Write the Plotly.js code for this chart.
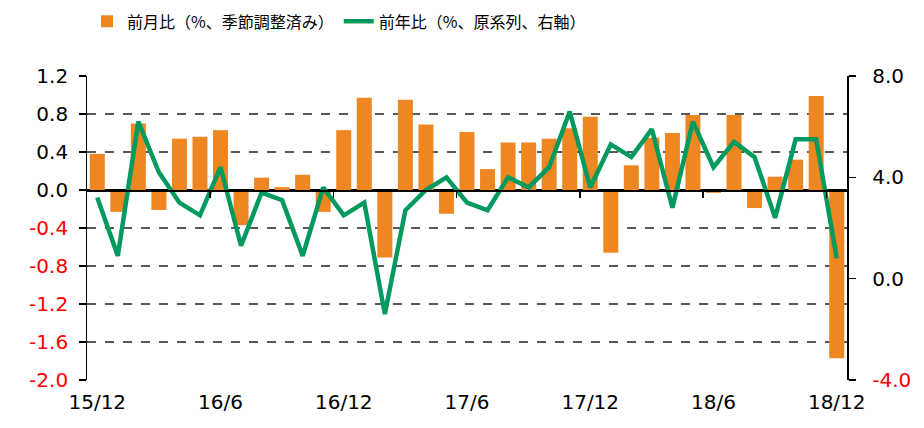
<!DOCTYPE html>
<html>
<head>
<meta charset="utf-8">
<script src="https://cdn.plot.ly/plotly-3.0.1.min.js"></script>
<style>html,body{margin:0;padding:0;background:#fff;}#chart{width:924px;height:428px;}</style>
</head>
<body>
<div id="chart"></div>
<script>
const months = ["15/12","16/1","16/2","16/3","16/4","16/5","16/6","16/7","16/8","16/9","16/10","16/11",
  "16/12","17/1","17/2","17/3","17/4","17/5","17/6","17/7","17/8","17/9","17/10","17/11",
  "17/12","18/1","18/2","18/3","18/4","18/5","18/6","18/7","18/8","18/9","18/10","18/11","18/12"];
const momSA = [0.38,-0.23,0.70,-0.21,0.54,0.56,0.63,-0.37,0.13,0.03,0.16,-0.23,
  0.63,0.97,-0.71,0.95,0.69,-0.25,0.61,0.22,0.50,0.50,0.54,0.65,
  0.77,-0.66,0.26,0.55,0.60,0.79,-0.03,0.79,-0.19,0.14,0.32,0.99,-1.77];
const yoy = [3.2,0.9,6.2,4.2,3.0,2.5,4.4,1.3,3.4,3.1,0.9,3.6,
  2.5,3.0,-1.4,2.7,3.5,4.0,3.0,2.7,4.0,3.6,4.4,6.6,
  3.6,5.3,4.8,5.9,2.8,6.2,4.4,5.4,4.8,2.4,5.5,5.5,0.8];
const xTickIdx = [0,6,12,18,24,30,36];
const leftTicks = [1.2,0.8,0.4,0.0,-0.4,-0.8,-1.2,-1.6,-2.0];
const rightTicks = [8,4,0,-4];

const idx = months.map((m,i)=>i);
const fmt = (v, pre, post)=> {
  const s = pre + v.toFixed(1) + post;
  return v<0 ? '<span style="color:#FF0000">'+s+'</span>' : s;
};
const boundaries = [];
for (let k=0;k<months.length-1;k++){ if ((k+1)%6===0) boundaries.push(k+0.5); }

const traces = [
  {type:'bar', x:idx, y:momSA, name:'前月比（%、季節調整済み）',
   marker:{color:'#EE8621', line:{width:0}}, yaxis:'y', xaxis:'x'},
  {type:'scatter', mode:'lines', x:idx, y:yoy, name:'前年比（%、原系列、右軸）',
   line:{color:'#009A5E', width:4.5}, yaxis:'y2', xaxis:'x'},
  {type:'scatter', mode:'none', x:[idx[0]], y:[0], xaxis:'x2', yaxis:'y',
   showlegend:false, hoverinfo:'skip'}
];

const fontTick = {family:'DejaVu Sans, Verdana, sans-serif', size:20, color:'#000'};
const layout = {
  width:924, height:428,
  margin:{l:87, r:77, t:76, b:48},
  paper_bgcolor:'#fff', plot_bgcolor:'#fff',
  showlegend:true,
  legend:{orientation:'h', x:0.0, xanchor:'left', yref:'container', y:0.95, yanchor:'middle',
    font:{family:'Noto Sans CJK JP, sans-serif', size:16, color:'#000'},
    tracegroupgap:0, bgcolor:'rgba(0,0,0,0)'},
  bargap:0.27,
  xaxis:{range:[-0.5, months.length-0.5], tickmode:'array', tickvals:xTickIdx,
    ticktext:xTickIdx.map(i=>months[i]), ticks:'outside', ticklen:4, tickcolor:'rgba(0,0,0,0)',
    showline:false, showgrid:false, zeroline:false, tickfont:fontTick, fixedrange:true},
  xaxis2:{overlaying:'x', anchor:'free', position:0.625,
    range:[-0.5, months.length-0.5], tickmode:'array', tickvals:boundaries,
    ticks:'outside', ticklen:6, tickwidth:1.5, tickcolor:'#000', showticklabels:false,
    showline:true, linecolor:'#000', linewidth:1.5, showgrid:false, zeroline:false},
  yaxis:{range:[-2.0,1.2], tickmode:'array', tickvals:leftTicks,
    ticktext:leftTicks.map(v=>fmt(v,'','\u00a0')),
    showgrid:true, gridcolor:'#595959', gridwidth:1.5, griddash:'dash',
    zeroline:true, zerolinecolor:'#000', zerolinewidth:1.5, showline:true, linecolor:'#000', linewidth:1.5,
    ticks:'outside', ticklen:7, tickwidth:1.5, tickcolor:'#000', tickfont:fontTick},
  yaxis2:{overlaying:'y', side:'right', range:[-4,8], tickmode:'array', tickvals:rightTicks,
    ticktext:rightTicks.map(v=>fmt(v,'\u00a0\u00a0','')), showgrid:false, zeroline:false, showline:true,
    linecolor:'#000', linewidth:1.5, ticks:'outside', ticklen:7, tickwidth:1.5, tickcolor:'#000',
    tickfont:fontTick}
};
Plotly.newPlot('chart', traces, layout, {displayModeBar:false, staticPlot:true});
</script>
</body>
</html>
